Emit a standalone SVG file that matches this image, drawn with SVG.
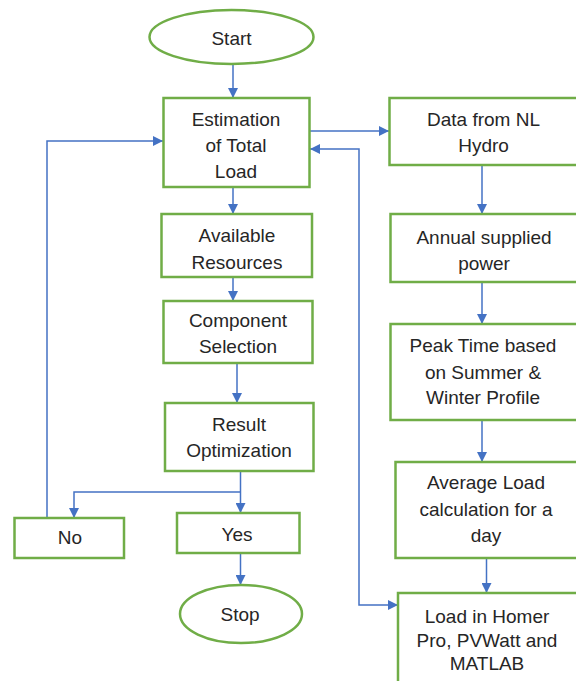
<svg xmlns="http://www.w3.org/2000/svg" width="576" height="681" viewBox="0 0 576 681">
<style>
.box{fill:#fff;stroke:#70AD47;stroke-width:2.5}
.t{font-family:"Liberation Sans",Arial,sans-serif;font-size:19px;fill:#262626;text-anchor:middle}
.c{fill:none;stroke:#4472C4;stroke-width:1.5}
</style>
<defs>
<marker id="ah" markerUnits="userSpaceOnUse" markerWidth="10" markerHeight="10" refX="10" refY="5" orient="auto-start-reverse">
<path d="M0,0 L10,5 L0,10 z" fill="#4472C4"/>
</marker>
</defs>
<rect width="576" height="681" fill="#fff"/>
<g id="connectors">
<path class="c" d="M233,65 V98" marker-end="url(#ah)"/>
<path class="c" d="M310,131 H389" marker-end="url(#ah)"/>
<path class="c" d="M233,188 V214" marker-end="url(#ah)"/>
<path class="c" d="M233,278 V301" marker-end="url(#ah)"/>
<path class="c" d="M237,363 V403" marker-end="url(#ah)"/>
<path class="c" d="M240.5,471 V513" marker-end="url(#ah)"/>
<path class="c" d="M240.5,492 H74 V518" marker-end="url(#ah)"/>
<path class="c" d="M47,518 V141 H163" marker-end="url(#ah)"/>
<path class="c" d="M240.5,553 V585" marker-end="url(#ah)"/>
<path class="c" d="M482,165 V214" marker-end="url(#ah)"/>
<path class="c" d="M482,282 V324" marker-end="url(#ah)"/>
<path class="c" d="M482,420 V462" marker-end="url(#ah)"/>
<path class="c" d="M486.5,558 V593" marker-end="url(#ah)"/>
<path class="c" d="M310,149 H359 V605 H398" marker-start="url(#ah)" marker-end="url(#ah)"/>
</g>
<g id="start">
<ellipse class="box" cx="231.5" cy="37" rx="82" ry="27"/>
<text class="t" x="231.5" y="45">Start</text>
</g>
<g id="estimation">
<rect class="box" x="163.5" y="98" width="146" height="89"/>
<text class="t" x="236" y="126">Estimation</text>
<text class="t" x="236" y="152">of Total</text>
<text class="t" x="236" y="178">Load</text>
</g>
<g id="available">
<rect class="box" x="161.5" y="214" width="150.5" height="63"/>
<text class="t" x="237" y="242">Available</text>
<text class="t" x="237" y="269">Resources</text>
</g>
<g id="component">
<rect class="box" x="163.5" y="301" width="149" height="62"/>
<text class="t" x="238" y="327">Component</text>
<text class="t" x="238" y="353">Selection</text>
</g>
<g id="result">
<rect class="box" x="165" y="403" width="148.5" height="68"/>
<text class="t" x="239" y="431">Result</text>
<text class="t" x="239" y="457">Optimization</text>
</g>
<g id="no">
<rect class="box" x="14.5" y="518" width="109.5" height="40"/>
<text class="t" x="70" y="544">No</text>
</g>
<g id="yes">
<rect class="box" x="177" y="513" width="122.5" height="40"/>
<text class="t" x="237" y="541">Yes</text>
</g>
<g id="stop">
<ellipse class="box" cx="241" cy="614" rx="61" ry="29"/>
<text class="t" x="240" y="621">Stop</text>
</g>
<g id="data">
<rect class="box" x="389.5" y="98" width="190" height="67"/>
<text class="t" x="483.5" y="126">Data from NL</text>
<text class="t" x="483.5" y="152">Hydro</text>
</g>
<g id="annual">
<rect class="box" x="390.5" y="214" width="189" height="68"/>
<text class="t" x="484" y="244">Annual supplied</text>
<text class="t" x="484" y="270">power</text>
</g>
<g id="peak">
<rect class="box" x="390.5" y="324" width="189" height="96"/>
<text class="t" x="483" y="352">Peak Time based</text>
<text class="t" x="483" y="379">on Summer &amp;</text>
<text class="t" x="483" y="404">Winter Profile</text>
</g>
<g id="average">
<rect class="box" x="395.5" y="462" width="184" height="96"/>
<text class="t" x="486" y="489">Average Load</text>
<text class="t" x="486" y="516">calculation for a</text>
<text class="t" x="486" y="542">day</text>
</g>
<g id="load">
<rect class="box" x="398" y="593" width="181" height="95"/>
<text class="t" x="487" y="623">Load in Homer</text>
<text class="t" x="487" y="647">Pro, PVWatt and</text>
<text class="t" x="487" y="670">MATLAB</text>
</g>
</svg>
